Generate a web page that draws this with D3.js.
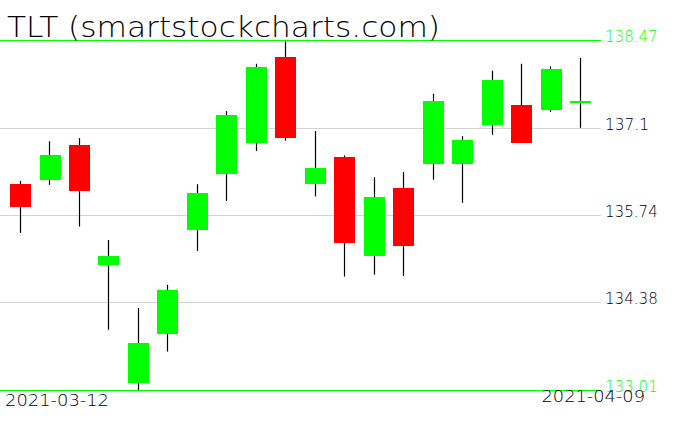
<!DOCTYPE html>
<html><head><meta charset="utf-8">
<script src="https://cdn.jsdelivr.net/npm/d3@7"></script>
<style>body{margin:0;background:#fff}svg{display:block}text{font-family:"DejaVu Sans";font-weight:200}</style>
</head><body>
<svg id="c" width="676" height="431"></svg>
<script>
const dates = ["2021-03-12","2021-03-15","2021-03-16","2021-03-17","2021-03-18","2021-03-19","2021-03-22","2021-03-23","2021-03-24","2021-03-25","2021-03-26","2021-03-29","2021-03-30","2021-03-31","2021-04-01","2021-04-05","2021-04-06","2021-04-07","2021-04-08","2021-04-09"];
const open  = [136.22,136.29,136.83,134.96,133.12,133.89,135.50,136.38,136.86,138.20,136.23,136.64,135.10,136.16,136.54,136.54,137.14,137.46,137.38,137.51];
const high  = [136.27,136.89,136.94,135.35,134.29,134.65,136.22,137.36,138.10,138.45,137.05,136.67,136.33,136.41,137.63,136.97,137.99,138.10,138.06,138.19];
const low   = [135.46,136.21,135.56,133.95,133.01,133.61,135.18,135.96,136.74,136.90,136.03,134.78,134.81,134.79,136.29,135.93,136.99,136.87,137.35,137.10];
const close = [135.87,136.68,136.12,135.10,133.74,134.57,136.08,137.30,138.05,136.94,136.47,135.31,136.02,135.26,137.52,136.91,137.85,136.86,138.02,137.51];
const yTicks = [138.47,137.1,135.74,134.38,133.01];
const yTickLabels = ["138.47","137.1","135.74","134.38","133.01"];
const title = "TLT (smartstockcharts.com)";

const svg = d3.select("#c");
const x = d3.scaleBand().domain(dates).range([5.77,595.2]).paddingInner(0.29).paddingOuter(0.145);
const y = d3.scaleLinear().domain([133.01,138.47]).range([390,40]);
const data = dates.map((d,i)=>({d,o:open[i],h:high[i],l:low[i],c:close[i]}));

// grid lines
yTicks.forEach((t,i)=>{
  const extreme = (i===0||i===yTicks.length-1);
  const yy = Math.round(y(t))+0.5;
  svg.append("line").attr("x1",0).attr("x2",601).attr("y1",yy).attr("y2",yy)
    .attr("stroke", extreme ? "#00ff00" : "#d3d3d3").attr("stroke-width",1);
});

// wicks
const bw = x.bandwidth();
svg.selectAll(".wick").data(data).join("line")
  .attr("x1",d=>Math.floor(x(d.d)+bw/2)+0.5).attr("x2",d=>Math.floor(x(d.d)+bw/2)+0.5)
  .attr("y1",d=>y(d.h)).attr("y2",d=>y(d.l))
  .attr("stroke","#000").attr("stroke-width",1.2);

// bodies
svg.selectAll(".body").data(data).join("rect")
  .attr("shape-rendering","crispEdges")
  .attr("x",d=>Math.round(x(d.d)))
  .attr("width",Math.round(bw))
  .attr("y",d=>{const t=y(Math.max(d.o,d.c)),b=y(Math.min(d.o,d.c)); return (b-t<2)?(t+b)/2-1:t;})
  .attr("height",d=>Math.max(2,y(Math.min(d.o,d.c))-y(Math.max(d.o,d.c))))
  .attr("fill",d=>d.c>=d.o?"#00ff00":"#ff0000");

// y labels
yTicks.forEach((t,i)=>{
  const extreme = (i===0||i===yTicks.length-1);
  svg.append("text").attr("x",605).attr("y",Math.round(y(t))+1.5)
    .attr("font-size",15)
    .attr("textLength", yTickLabels[i].length*8.8).attr("lengthAdjust","spacingAndGlyphs")
    .attr("fill", extreme ? "#00ff00" : "#000").text(yTickLabels[i]);
});

// date labels
svg.append("text").attr("x",5).attr("y",406).attr("font-size",15)
  .attr("textLength",104).attr("lengthAdjust","spacingAndGlyphs").attr("fill","#000").text(dates[0]);
svg.append("text").attr("x",541.5).attr("y",401.5).attr("font-size",15)
  .attr("textLength",103.5).attr("lengthAdjust","spacingAndGlyphs").attr("fill","#000").text(dates[dates.length-1]);

// title
svg.append("text").attr("x",7).attr("y",37).attr("font-size",29)
  .attr("textLength",433).attr("lengthAdjust","spacingAndGlyphs").attr("fill","#000").text(title);
</script>
</body></html>
